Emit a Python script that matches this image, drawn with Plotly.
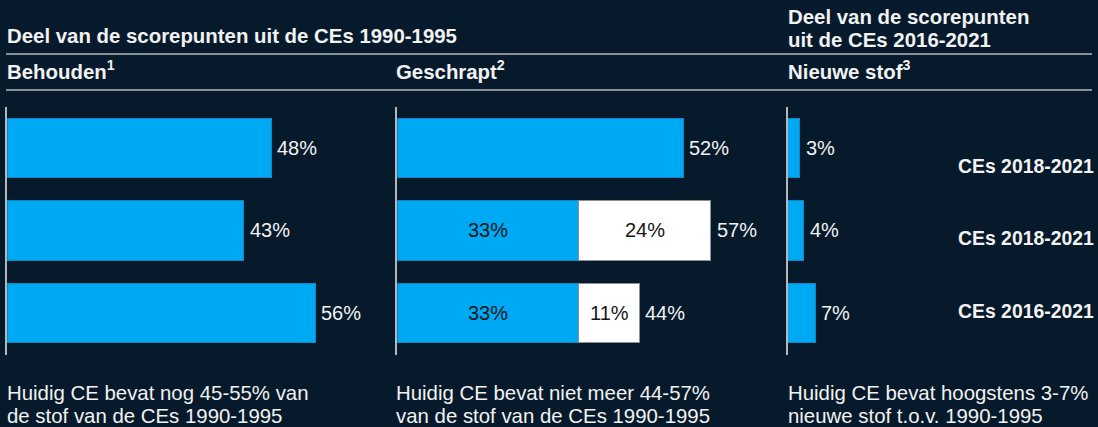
import plotly.graph_objects as go

# ---------------- data ----------------
rows = ["r1", "r2", "r3"]
row_labels = ["CEs 2018-2021", "CEs 2018-2021", "CEs 2016-2021"]
behouden = [48, 43, 56]
geschrapt_blue = [52, 33, 33]
geschrapt_white = [None, 24, 11]
geschrapt_total = [52, 57, 44]
nieuw = [3, 4, 7]

title_left = "Deel van de scorepunten uit de CEs 1990-1995"
title_right = ["Deel van de scorepunten", "uit de CEs 2016-2021"]
panel_titles = ["Behouden<sup>1</sup>", "Geschrapt<sup>2</sup>", "Nieuwe stof<sup>3</sup>"]
footnotes = [
    ["Huidig CE bevat nog 45-55% van", "de stof van de CEs 1990-1995"],
    ["Huidig CE bevat niet meer 44-57%", "van de stof van de CEs 1990-1995"],
    ["Huidig CE bevat hoogstens 3-7%", "nieuwe stof t.o.v. 1990-1995"],
]

# ---------------- style ----------------
W, H = 1098, 427
BG = "#061a2b"
BLUE = "#00a9f3"
BLUE_EDGE = "#1585c4"
WHITE = "#ffffff"
LINE = "#b4b8bc"
TXT = "#f2f2f2"
DARK = "#151515"
FONT = "Liberation Sans, Arial, sans-serif"
FS = 20
FS_HEAD = 20.4
FS_ROW = 19.4


def px(x):
    return x / W


def py(y):
    return 1 - y / H


fig = go.Figure()

# panel 1
fig.add_trace(go.Bar(
    y=rows, x=behouden, orientation="h", xaxis="x", yaxis="y",
    marker=dict(color=BLUE, line=dict(color=BLUE_EDGE, width=1)),
    hoverinfo="skip", showlegend=False,
))
# panel 2 (stacked)
fig.add_trace(go.Bar(
    y=rows, x=geschrapt_blue, orientation="h", xaxis="x2", yaxis="y2",
    marker=dict(color=BLUE, line=dict(color=BLUE_EDGE, width=1)),
    hoverinfo="skip", showlegend=False,
))
fig.add_trace(go.Bar(
    y=rows, x=geschrapt_white, orientation="h", xaxis="x2", yaxis="y2",
    marker=dict(color=WHITE, line=dict(color="#8a8f94", width=1)),
    hoverinfo="skip", showlegend=False,
))
# panel 3
fig.add_trace(go.Bar(
    y=rows, x=nieuw, orientation="h", xaxis="x3", yaxis="y3",
    marker=dict(color=BLUE, line=dict(color=BLUE_EDGE, width=1)),
    hoverinfo="skip", showlegend=False,
))

annotations = []
# outside value labels
for xa, ya, vals in (("x", "y", behouden), ("x2", "y2", geschrapt_total), ("x3", "y3", nieuw)):
    for r, v in zip(rows, vals):
        annotations.append(dict(
            x=v, y=r, xref=xa, yref=ya, text=f"{v}%", showarrow=False,
            xanchor="left", yanchor="middle", xshift=4,
            font=dict(color=TXT, size=FS, family=FONT),
        ))
# inside labels for the split bars
for r, b, w in zip(rows, geschrapt_blue, geschrapt_white):
    if w:
        annotations.append(dict(x=b / 2, y=r, xref="x2", yref="y2", text=f"{b}%", showarrow=False,
                                xanchor="center", yanchor="middle",
                                font=dict(color=DARK, size=FS, family=FONT)))
        annotations.append(dict(x=b + w / 2, y=r, xref="x2", yref="y2", text=f"{w}%", showarrow=False,
                                xanchor="center", yanchor="middle",
                                font=dict(color=DARK, size=FS, family=FONT)))

# headers
annotations.append(dict(x=px(5), y=py(36.5), xref="paper", yref="paper", text=f"<b>{title_left}</b>",
                        showarrow=False, xanchor="left", yanchor="middle",
                        font=dict(color=TXT, size=FS_HEAD, family=FONT)))
for i, t in enumerate(title_right):
    annotations.append(dict(x=px(786), y=py(17 + 22.5 * i), xref="paper", yref="paper", text=f"<b>{t}</b>",
                            showarrow=False, xanchor="left", yanchor="middle",
                            font=dict(color=TXT, size=FS_HEAD, family=FONT)))
for xpos, t in zip((5, 394, 786), panel_titles):
    annotations.append(dict(x=px(xpos), y=py(70), xref="paper", yref="paper", text=f"<b>{t}</b>",
                            showarrow=False, xanchor="left", yanchor="middle",
                            font=dict(color=TXT, size=FS_HEAD, family=FONT)))
# row labels on the right
for yc, t in zip((165.7, 238.3, 310.7), row_labels):
    annotations.append(dict(x=px(1096), y=py(yc), xref="paper", yref="paper", text=f"<b>{t}</b>",
                            showarrow=False, xanchor="right", yanchor="middle",
                            font=dict(color=TXT, size=FS_ROW, family=FONT)))
# footnotes
for xpos, lines in zip((5, 394, 786), footnotes):
    for j, t in enumerate(lines):
        annotations.append(dict(x=px(xpos), y=py(392.5 + 23.5 * j), xref="paper", yref="paper", text=t,
                                showarrow=False, xanchor="left", yanchor="middle",
                                font=dict(color=TXT, size=FS_HEAD, family=FONT)))

shapes = [
    dict(type="line", xref="paper", yref="paper", x0=px(6), x1=px(1092), y0=py(54), y1=py(54),
         line=dict(color=LINE, width=1.5)),
    dict(type="line", xref="paper", yref="paper", x0=px(6), x1=px(1092), y0=py(90), y1=py(90),
         line=dict(color=LINE, width=1.5)),
]

ydom = [py(354.5), py(106.5)]
yax = dict(domain=ydom, type="category", categoryarray=rows, autorange="reversed",
           showticklabels=False, showgrid=False, zeroline=False,
           showline=True, linecolor=LINE, linewidth=1.5, ticks="")
xax = dict(showticklabels=False, showgrid=False, zeroline=False, showline=False, ticks="")

fig.update_layout(
    width=W, height=H,
    margin=dict(l=0, r=0, t=0, b=0),
    paper_bgcolor=BG, plot_bgcolor=BG,
    barmode="stack", bargap=0.286,
    xaxis=dict(domain=[px(7), px(370)], range=[0, 363 / 5.5], anchor="y", **xax),
    xaxis2=dict(domain=[px(397.3), px(760)], range=[0, 362.7 / 5.5], anchor="y2", **xax),
    xaxis3=dict(domain=[px(787.7), px(1092)], range=[0, 304.3 / 3.95], anchor="y3", **xax),
    yaxis=dict(anchor="x", **yax),
    yaxis2=dict(anchor="x2", **yax),
    yaxis3=dict(anchor="x3", **yax),
    annotations=annotations,
    shapes=shapes,
    font=dict(family=FONT, color=TXT),
)

fig.write_html(
    "out.html",
    config={"displayModeBar": False},
    post_script="document.body.style.margin='0';document.body.style.padding='0';"
                "document.body.style.background='#061a2b';",
)
